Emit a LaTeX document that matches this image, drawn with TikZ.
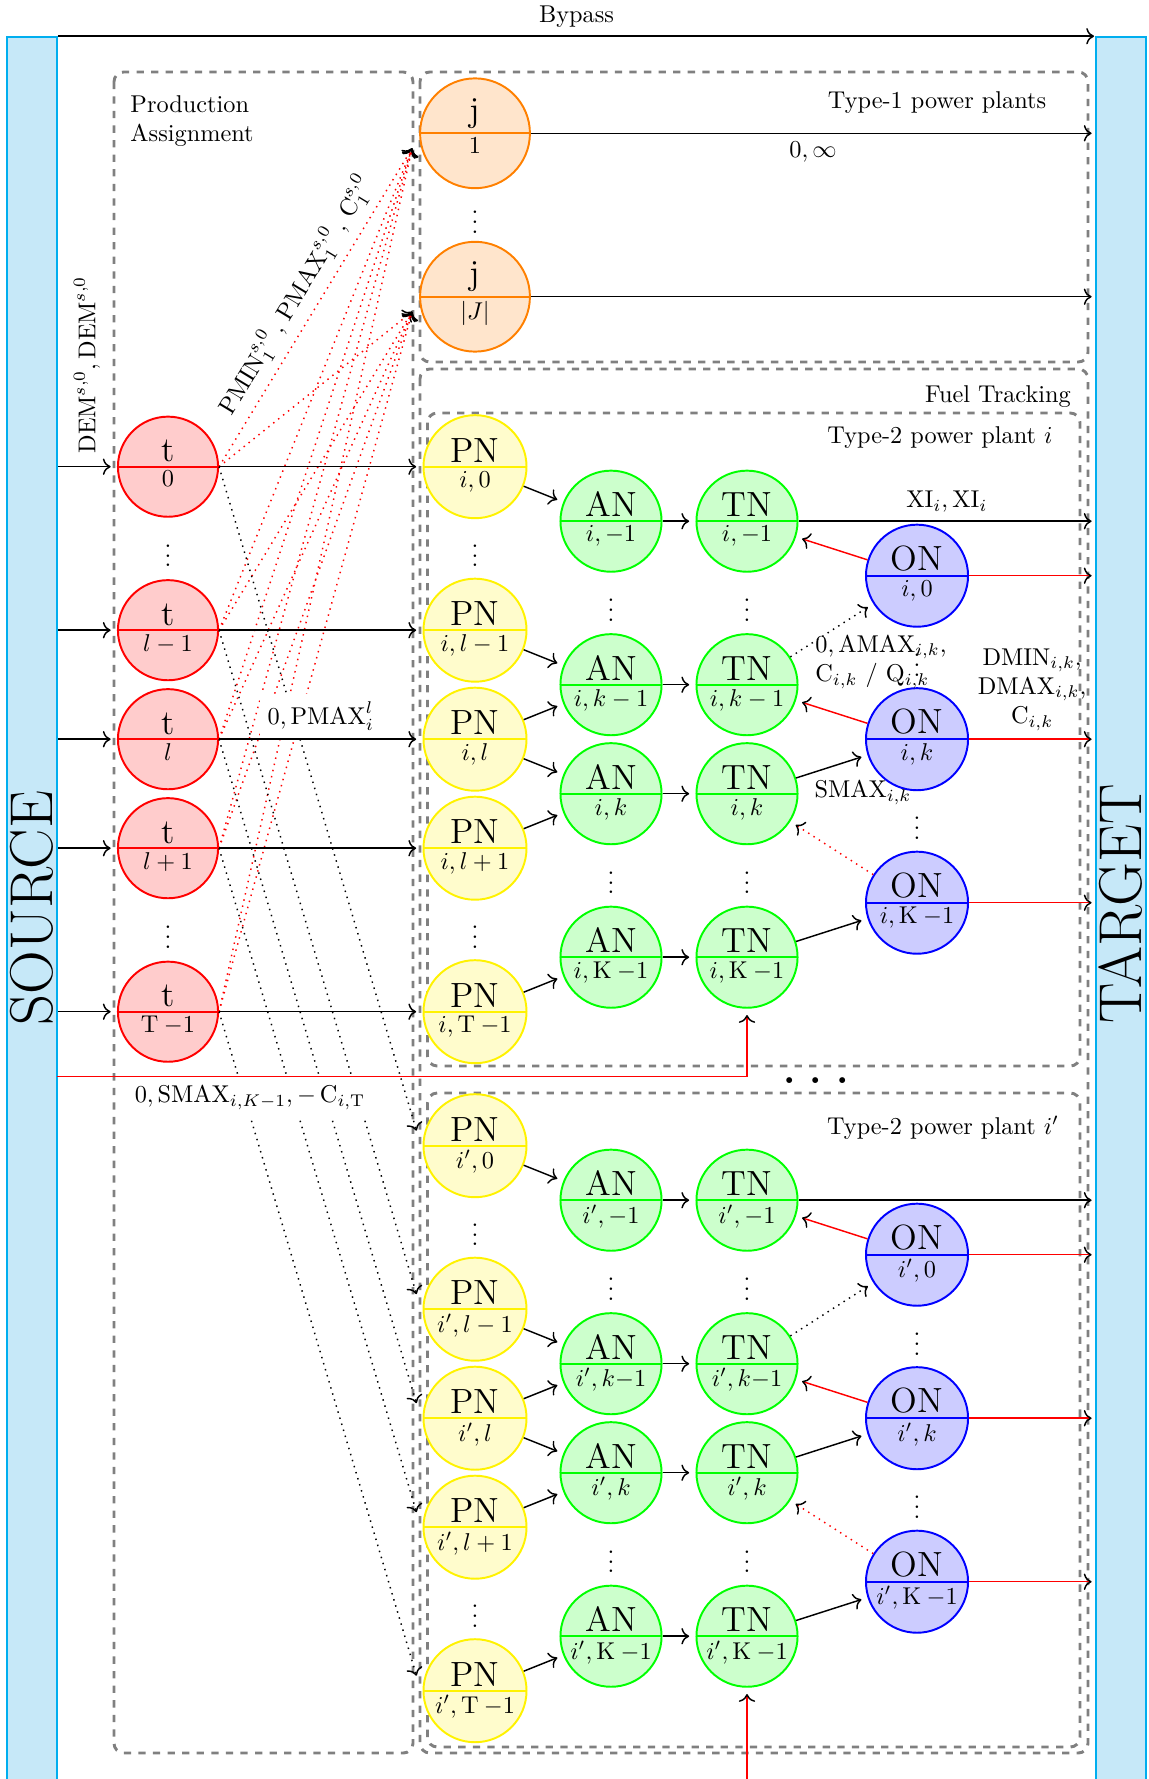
\documentclass[tikz,border=0pt]{standalone}
\usetikzlibrary{shapes.multipart,calc,arrows.meta}
\definecolor{barfill}{RGB}{198,232,248}
\definecolor{barline}{RGB}{0,174,239}
\newcommand{\lowlbl}[1]{\makebox[0pt]{\normalsize$#1$}}
\begin{document}
\begin{tikzpicture}[x=0.4115pt,y=-0.4115pt,
  >={To[color=black, scale=1.1]},
  splitnode/.style={circle split, draw, thick, inner sep=1.5pt, font=\Large},
  nodeT/.style={splitnode, draw=red, fill=red!20, minimum size=41.2pt},
  nodeJ/.style={splitnode, draw=orange, fill=orange!20, minimum size=45.2pt},
  nodePN/.style={splitnode, draw=yellow, fill=yellow!20, minimum size=42.4pt},
  nodeG/.style={splitnode, draw=green, fill=green!20, minimum size=41.6pt},
  nodeON/.style={splitnode, draw=blue, fill=blue!20, minimum size=42pt},
  bar/.style={draw=barline, fill=barfill, semithick, inner sep=0pt, minimum width=20.6pt, minimum height=721.4pt},
  grp/.style={draw=gray, dashed, very thick, rounded corners=4pt},
  arr/.style={->, semithick, shorten >=2.6pt},
  tgtarr/.style={->, semithick, shorten >=1.5pt},
  redarr/.style={arr, red},
  redtgt/.style={tgtarr, red},
  reddotarr/.style={arr, red, dotted, semithick},
  dotarr/.style={arr, dotted, semithick},
  reddotj/.style={->, red, dotted, semithick},
  dotpn/.style={->, dotted, semithick},
  vd/.style={inner sep=0pt},
  lbl/.style={text=black}
]
\useasboundingbox (0,0) rectangle (1148,1779);

% group boxes
\draw[grp] (114,72) rectangle (413,1753);
\draw[grp] (420,72) rectangle (1088,362);
\draw[grp] (420,369) rectangle (1088,1753);
\draw[grp] (427.5,413) rectangle (1080,1066);
\draw[grp] (427.5,1093) rectangle (1080,1747);

% bars
\node[bar] (source) at (32,913.5) {};
\node[bar] (target) at (1121,913.5) {};
\node[rotate=90, font=\Huge] (sourcetxt) at (32,908) {SOURCE};
\node[rotate=90, font=\Huge] (targettxt) at (1121,904) {TARGET};

% group labels
\node[anchor=north west, align=left, inner sep=0pt] (lblprod) at (130,95) {Production\\Assignment};
\node (lbltype1) at (937,103) {Type-1 power plants};
\node (lblfuel) at (998,397) {Fuel Tracking};
\node (lbltwoi) at (940,438) {Type-2 power plant $i$};
\node (lbltwoip) at (943,1128) {Type-2 power plant $i'$};
\node[font=\Huge] (morepl) at (816,1081) {$\ldots$};

% type-1 nodes
\node[nodeJ] (j1) at (475,133.3) {j\nodepart{lower}\lowlbl{1}};
\node[nodeJ] (jJ) at (475,296.7) {j\nodepart{lower}\lowlbl{|J|}};
\node[vd] (vdj) at (475,215) {$\vdots$};

% t nodes
\node[nodeT] (t0) at (168,466.7) {t\nodepart{lower}\lowlbl{0}};
\node[nodeT] (t1) at (168,630.2) {t\nodepart{lower}\lowlbl{l-1}};
\node[nodeT] (t2) at (168,739.2) {t\nodepart{lower}\lowlbl{l}};
\node[nodeT] (t3) at (168,848.2) {t\nodepart{lower}\lowlbl{l+1}};
\node[nodeT] (t4) at (168,1011.7) {t\nodepart{lower}\lowlbl{\mathrm{T}\:{-1}}};
\node[vd] (vdt1) at (168,548.5) {$\vdots$};
\node[vd] (vdt2) at (168,930) {$\vdots$};

% plant i
\node[nodePN] (pa) at (475,466.7) {PN\nodepart{lower}\lowlbl{i,0}};
\node[nodePN] (pb) at (475,630.2) {PN\nodepart{lower}\lowlbl{i,l-1}};
\node[nodePN] (pc) at (475,739.2) {PN\nodepart{lower}\lowlbl{i,l}};
\node[nodePN] (pd) at (475,848.2) {PN\nodepart{lower}\lowlbl{i,l+1}};
\node[nodePN] (pe) at (475,1011.7) {PN\nodepart{lower}\lowlbl{i,\mathrm{T}\:{-1}}};
\node[vd] (vdp1) at (475,548.5) {$\vdots$};
\node[vd] (vdp2) at (475,930) {$\vdots$};

\node[nodeG] (aa) at (611,521.2) {AN\nodepart{lower}\lowlbl{i,-1}};
\node[nodeG] (ab) at (611,684.7) {AN\nodepart{lower}\lowlbl{i,k-1}};
\node[nodeG] (ac) at (611,793.7) {AN\nodepart{lower}\lowlbl{i,k}};
\node[nodeG] (ad) at (611,957.2) {AN\nodepart{lower}\lowlbl{i,\mathrm{K}\:{-1}}};
\node[vd] (vda1) at (611,603) {$\vdots$};
\node[vd] (vda2) at (611,875.5) {$\vdots$};

\node[nodeG] (ta) at (747,521.2) {TN\nodepart{lower}\lowlbl{i,-1}};
\node[nodeG] (tb) at (747,684.7) {TN\nodepart{lower}\lowlbl{i,k-1}};
\node[nodeG] (tc) at (747,793.7) {TN\nodepart{lower}\lowlbl{i,k}};
\node[nodeG] (td) at (747,957.2) {TN\nodepart{lower}\lowlbl{i,\mathrm{K}\:{-1}}};
\node[vd] (vdn1) at (747,603) {$\vdots$};
\node[vd] (vdn2) at (747,875.5) {$\vdots$};

\node[nodeON] (oa) at (917,575.7) {ON\nodepart{lower}\lowlbl{i,0}};
\node[nodeON] (ob) at (917,739.2) {ON\nodepart{lower}\lowlbl{i,k}};
\node[nodeON] (oc) at (917,902.7) {ON\nodepart{lower}\lowlbl{i,\mathrm{K}\:{-1}}};
\node[vd] (vdo1) at (917,658) {$\vdots$};
\node[vd] (vdo2) at (917,821) {$\vdots$};

% plant i'
\node[nodePN] (qa) at (475,1145.7) {PN\nodepart{lower}\lowlbl{i',0}};
\node[nodePN] (qb) at (475,1309.2) {PN\nodepart{lower}\lowlbl{i',l-1}};
\node[nodePN] (qc) at (475,1418.2) {PN\nodepart{lower}\lowlbl{i',l}};
\node[nodePN] (qd) at (475,1527.2) {PN\nodepart{lower}\lowlbl{i',l+1}};
\node[nodePN] (qe) at (475,1690.7) {PN\nodepart{lower}\lowlbl{i',\mathrm{T}\:{-1}}};
\node[vd] (vdq1) at (475,1227.5) {$\vdots$};
\node[vd] (vdq2) at (475,1609) {$\vdots$};

\node[nodeG] (ba) at (611,1200.2) {AN\nodepart{lower}\lowlbl{i',-1}};
\node[nodeG] (bb) at (611,1363.7) {AN\nodepart{lower}\lowlbl{i',k{-}1}};
\node[nodeG] (bc) at (611,1472.7) {AN\nodepart{lower}\lowlbl{i',k}};
\node[nodeG] (bd) at (611,1636.2) {AN\nodepart{lower}\lowlbl{i',\mathrm{K}\:{-1}}};
\node[vd] (vdb1) at (611,1282) {$\vdots$};
\node[vd] (vdb2) at (611,1554.5) {$\vdots$};

\node[nodeG] (ua) at (747,1200.2) {TN\nodepart{lower}\lowlbl{i',-1}};
\node[nodeG] (ub) at (747,1363.7) {TN\nodepart{lower}\lowlbl{i',k{-}1}};
\node[nodeG] (uc) at (747,1472.7) {TN\nodepart{lower}\lowlbl{i',k}};
\node[nodeG] (ud) at (747,1636.2) {TN\nodepart{lower}\lowlbl{i',\mathrm{K}\:{-1}}};
\node[vd] (vdu1) at (747,1282) {$\vdots$};
\node[vd] (vdu2) at (747,1554.5) {$\vdots$};

\node[nodeON] (ra) at (917,1254.7) {ON\nodepart{lower}\lowlbl{i',0}};
\node[nodeON] (rb) at (917,1418.2) {ON\nodepart{lower}\lowlbl{i',k}};
\node[nodeON] (rc) at (917,1581.7) {ON\nodepart{lower}\lowlbl{i',\mathrm{K}\:{-1}}};
\node[vd] (vdr1) at (917,1337) {$\vdots$};
\node[vd] (vdr2) at (917,1500) {$\vdots$};

% helper coordinates
\coordinate (j1in) at ($(j1.west)+(-7,15)$);
\coordinate (jJin) at ($(jJ.west)+(-7,15)$);
\coordinate (qain) at ($(qa.west)+(-6,-15)$);
\coordinate (qbin) at ($(qb.west)+(-6,-15)$);
\coordinate (qcin) at ($(qc.west)+(-6,-15)$);
\coordinate (qdin) at ($(qd.west)+(-6,-15)$);
\coordinate (qein) at ($(qe.west)+(-6,-15)$);
\coordinate (redstart) at (57,1076.7);
\coordinate (redbottom) at (747,1795);

% dotted production assignment arcs
\draw[reddotj] (t0.east) -- node[lbl, midway, sloped, above] (lblpmin) {$\mathrm{PMIN}_1^{s,0}\,,\,\mathrm{PMAX}_1^{s,0}\,,\,\mathrm{C}_1^{s,0}$} (j1in);
\foreach \n in {t1,t2,t3,t4} \draw[reddotj] (\n.east) -- (j1in);
\foreach \n in {t0,t1,t2,t3,t4} \draw[reddotj] (\n.east) -- (jJin);
\draw[dotpn] (t0.east) -- (qain);
\draw[dotpn] (t1.east) -- (qbin);
\draw[dotpn] (t2.east) -- (qcin);
\draw[dotpn] (t3.east) -- (qdin);
\draw[dotpn] (t4.east) -- (qein);

% bypass and type-1
\draw[->, semithick, shorten >=0.5pt] (source.north east) -- node[above] (lblbypass) {Bypass} (target.north west);
\draw[tgtarr] (j1.east) -- node[below] (lblinf) {$0,\infty$} (target.west |- j1.east);
\draw[tgtarr] (jJ.east) -- (target.west |- jJ.east);

% source to t
\draw[arr] (source.east |- t0) -- (t0.west);
\node[rotate=90, anchor=west] (lbldem) at (87,462) {$\mathrm{DEM}^{s,0},\mathrm{DEM}^{s,0}$};
\foreach \n in {t1,t2,t3,t4} \draw[arr] (source.east |- \n) -- (\n.west);

% t to PN
\draw[arr] (t0.east) -- (pa.west);
\draw[arr] (t1.east) -- (pb.west);
\draw[arr] (t2.east) -- node[midway, above, fill=white] (lblpmax) {$0,\mathrm{PMAX}_i^l$} (pc.west);
\draw[arr] (t3.east) -- (pd.west);
\draw[arr] (t4.east) -- (pe.west);

% plant i connectors
\draw[arr] (pa) -- (aa);
\draw[arr] (pb) -- (ab);
\draw[arr] (pc) -- (ab);
\draw[arr] (pc) -- (ac);
\draw[arr] (pd) -- (ac);
\draw[arr] (pe) -- (ad);
\draw[arr] (aa) -- (ta);
\draw[arr] (ab) -- (tb);
\draw[arr] (ac) -- (tc);
\draw[arr] (ad) -- (td);
\draw[tgtarr] (ta) -- node[above] (lblxi) {$\mathrm{XI}_i,\mathrm{XI}_i$} (target.west |- ta);
\draw[redarr] (oa) -- (ta);
\draw[redtgt] (oa) -- (target.west |- oa);
\draw[dotarr] (tb) -- (oa);
\draw[redarr] (ob) -- (tb);
\draw[arr] (tc) -- (ob);
\draw[redtgt] (ob) -- node[lbl, above, align=center] (lbldmin) {$\mathrm{DMIN}_{i,k}$,\\$\mathrm{DMAX}_{i,k}$,\\$\mathrm{C}_{i,k}$} (target.west |- ob);
\draw[reddotarr] (oc) -- (tc);
\draw[arr] (td) -- (oc);
\draw[redtgt] (oc) -- (target.west |- oc);
\node[align=left] (lblamax) at (881,662) {$0,\mathrm{AMAX}_{i,k}$,\\$\mathrm{C}_{i,k}$ / $\mathrm{Q}_{i,k}$};
\node (lblsmax) at (863,793) {$\mathrm{SMAX}_{i,k}$};
\draw[redarr] (redstart) -| (td.south);
\node[fill=white] (lblsmaxk) at (250,1098) {$0,\mathrm{SMAX}_{i,K-1},-\,\mathrm{C}_{i,\mathrm{T}}$};

% plant i' connectors
\draw[arr] (qa) -- (ba);
\draw[arr] (qb) -- (bb);
\draw[arr] (qc) -- (bb);
\draw[arr] (qc) -- (bc);
\draw[arr] (qd) -- (bc);
\draw[arr] (qe) -- (bd);
\draw[arr] (ba) -- (ua);
\draw[arr] (bb) -- (ub);
\draw[arr] (bc) -- (uc);
\draw[arr] (bd) -- (ud);
\draw[tgtarr] (ua) -- (target.west |- ua);
\draw[redarr] (ra) -- (ua);
\draw[redtgt] (ra) -- (target.west |- ra);
\draw[dotarr] (ub) -- (ra);
\draw[redarr] (rb) -- (ub);
\draw[arr] (uc) -- (rb);
\draw[redtgt] (rb) -- (target.west |- rb);
\draw[reddotarr] (rc) -- (uc);
\draw[arr] (ud) -- (rc);
\draw[redtgt] (rc) -- (target.west |- rc);
\draw[redarr] (redbottom) -- (ud.south);
\end{tikzpicture}
\end{document}
